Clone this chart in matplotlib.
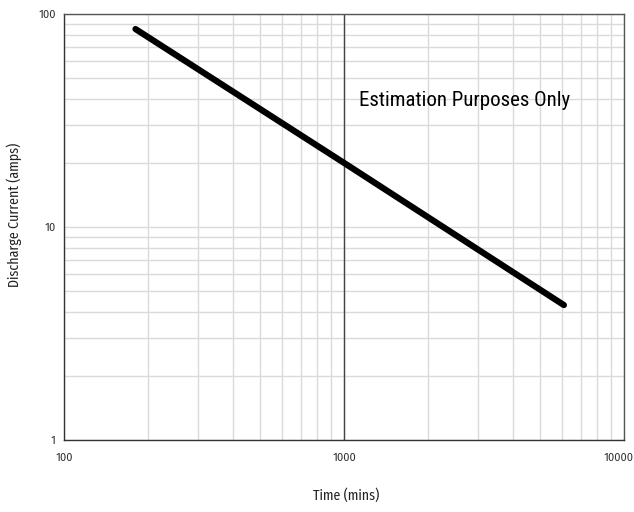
import matplotlib
matplotlib.use("Agg")
import matplotlib.pyplot as plt
from matplotlib import font_manager
from matplotlib.transforms import ScaledTranslation

time_mins = [180, 1000, 6100]
current_amps = [85, 20, 4.3]
x_ticks = [100, 1000, 10000]
x_tick_labels = ["100", "1000", "10000"]
y_ticks = [1, 10, 100]
y_tick_labels = ["1", "10", "100"]

names = {f.name for f in font_manager.fontManager.ttflist}

def pick(cands):
    for c in cands:
        if c in names:
            return c
    return "DejaVu Sans"

label_font = pick(["Fira Sans Condensed", "PT Sans Narrow", "Archivo Narrow", "Roboto Condensed"])
note_font = pick(["Roboto Condensed", "Archivo Narrow", "Fira Sans Condensed"])
tick_font = pick(["Fira Sans", "Open Sans", "Liberation Sans"])

fig = plt.figure(figsize=(6.34, 5.12), dpi=100)
ax = fig.add_axes([64/634, 1 - 440/512, 560/634, 426/512])
ax.set_xscale("log")
ax.set_yscale("log")
ax.set_xlim(100, 10000)
ax.set_ylim(1, 100)

ax.grid(True, which="both", color="#dadada", linewidth=1.0)
ax.axvline(1000, color="#444444", linewidth=1.0, zorder=2)
ax.set_axisbelow(True)

ax.plot(time_mins, current_amps, color="black", linewidth=4.5,
        solid_capstyle="round", zorder=3)

ax.set_xticks(x_ticks)
ax.set_xticklabels(x_tick_labels)
ax.set_yticks(y_ticks)
ax.set_yticklabels(y_tick_labels)
ax.minorticks_on()
ax.tick_params(which="both", length=0, labelsize=8, colors="#333333")
ax.tick_params(axis="x", pad=9)
ax.tick_params(axis="y", pad=6)
ax.xaxis.set_minor_formatter(plt.NullFormatter())
ax.yaxis.set_minor_formatter(plt.NullFormatter())
for lab in ax.get_xticklabels() + ax.get_yticklabels():
    lab.set_fontfamily(tick_font)
last = ax.get_xticklabels()[-1]
last.set_transform(last.get_transform() + ScaledTranslation(-5/100, 0, fig.dpi_scale_trans))

for s in ax.spines.values():
    s.set_color("#555555")
    s.set_linewidth(1.0)
ax.spines["left"].set_color("#333333")
ax.spines["bottom"].set_color("#333333")

ax.text((359 - 64) / 560, 0.797, "Estimation Purposes Only", transform=ax.transAxes,
        fontsize=15, fontweight="normal", fontfamily=note_font, color="black",
        va="center", ha="left")

fig.text(346/634, 1 - 495/512, "Time (mins)", fontsize=10, fontfamily=label_font,
         ha="center", va="center", color="#222222")
fig.text(14/634, 1 - 215/512, "Discharge Current (amps)", fontsize=10,
         fontfamily=label_font, ha="center", va="center", rotation=90, color="#222222")

fig.savefig("out.png", dpi=100)
